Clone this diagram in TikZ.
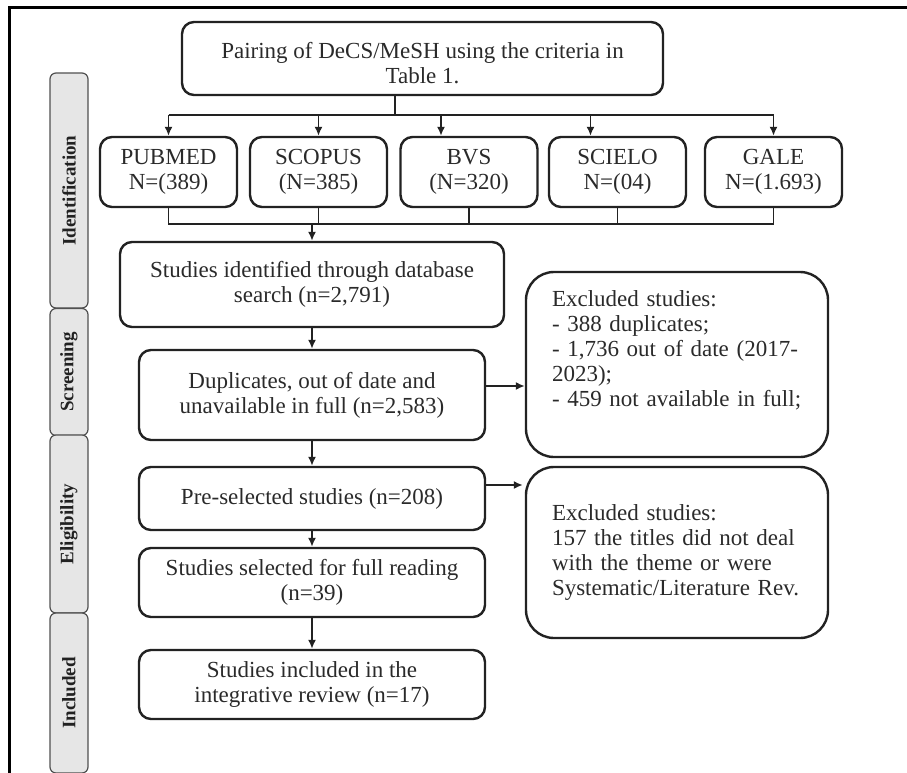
\documentclass[tikz,border=0pt]{standalone}
\usepackage{fontspec}
\setmainfont{Liberation Serif}
\usetikzlibrary{arrows.meta}

\definecolor{inkgray}{HTML}{222222}
\definecolor{textgray}{HTML}{2A2A2A}
\definecolor{barfill}{HTML}{E6E6E6}
\definecolor{bardraw}{HTML}{505050}

\tikzset{
  box/.style={draw=inkgray, line width=2.4pt, rounded corners=12pt, align=center,
    text=textgray, inner sep=0pt, font=\fontsize{23}{25}\selectfont},
  dbbox/.style={box, minimum width=137pt, minimum height=70pt},
  flowbox/.style={box, minimum width=346pt},
  exclbox/.style={box, rounded corners=28pt, align=left, minimum width=302pt,
    text width=250pt},
  phasebar/.style={draw=bardraw, fill=barfill, line width=1.2pt, rounded corners=6pt,
    minimum width=38pt, inner sep=0pt},
  phasetext/.style={rotate=90, font=\fontsize{19}{21}\selectfont\bfseries, text=inkgray},
  link/.style={draw=inkgray, line width=1.7pt},
  arrowlink/.style={link, -{Latex[length=9pt,width=8pt]}}
}

\begin{document}
\begin{tikzpicture}[x=1pt, y=-1pt]
        \useasboundingbox (0,0) rectangle (907,773);

        \coordinate (P) at (422.5,58.5);
        \coordinate (Bus) at (395,115);
        \coordinate (Join) at (312,224);

        % frame
        \draw[line width=3pt, black] (9,773) -- (9,8) -- (907,8);

        % phases
        \node[phasebar, minimum height=235pt] (idbar) at (69,190.5) {};
        \node[phasebar, minimum height=127pt] (scbar) at (69,372) {};
        \node[phasebar, minimum height=178pt] (elbar) at (69,524) {};
        \node[phasebar, minimum height=160pt] (inbar) at (69,693) {};
        \node[phasetext] (idtext) at (idbar) {Identification};
        \node[phasetext] (sctext) at (scbar) {Screening};
        \node[phasetext] (eltext) at (elbar) {Eligibility};
        \node[phasetext] (intext) at (inbar) {Included};

        % databases
        \node[box, minimum width=481pt, minimum height=73pt] (pairing) at (P) {};
        \node[align=center, text=textgray, inner sep=0pt, font=\fontsize{23}{25}\selectfont]
              (pairingtext) at ([yshift=-5pt]pairing.center)
              {Pairing of DeCS/MeSH using the criteria in\\Table 1.};
        \node[dbbox] (pubmed) at (168.5,172) {PUBMED\\N=(389)};
        \node[dbbox] (scopus) at (318.5,172) {SCOPUS\\(N=385)};
        \node[dbbox] (bvs)    at (469,172)   {BVS\\(N=320)};
        \node[dbbox] (scielo) at (617.5,172) {SCIELO\\N=(04)};
        \node[dbbox] (gale)   at (773.5,172) {GALE\\N=(1.693)};

        % flow
        \node[box, minimum width=384pt, minimum height=85pt] (identified) at (312,284.5)
              {Studies identified through database\\search (n=2,791)};
        \node[flowbox, minimum height=90pt] (duplicates) at (312,395)
              {Duplicates, out of date and\\unavailable in full (n=2,583)};
        \node[flowbox, minimum height=63pt] (preselected) at (312,498.5)
              {Pre-selected studies (n=208)};
        \node[flowbox, minimum height=69pt] (selected) at (312,582.5)
              {Studies selected for full reading\\(n=39)};
        \node[flowbox, minimum height=69pt] (included) at (312,684.5)
              {Studies included in the\\integrative review (n=17)};

        \node[exclbox, minimum height=185pt] (exclone) at (677,364.5)
              {Excluded studies:\\- 388 duplicates;\\- 1,736 out of date (2017-\\2023);\\- 459 not available in full;\\\strut};
        \node[exclbox, minimum height=171pt] (excltwo) at (677,552.5)
              {Excluded studies:\\157 the titles did not deal\\with the theme or were\\Systematic/Literature Rev.};

        % connectors
        \draw[link] (pairing.south -| Bus) -- (Bus);
        \draw[link] (pubmed.north |- Bus) -- (gale.north |- Bus);
        \draw[arrowlink] (pubmed.north |- Bus) -- (pubmed.north);
        \draw[arrowlink] (scopus.north |- Bus) -- (scopus.north);
        \draw[arrowlink] ([xshift=-28pt]bvs.north |- Bus) -- ([xshift=-28pt]bvs.north);
        \draw[arrowlink] ([xshift=-27pt]scielo.north |- Bus) -- ([xshift=-27pt]scielo.north);
        \draw[arrowlink] (gale.north |- Bus) -- (gale.north);

        \draw[link] (pubmed.south) |- (gale.south |- Join) -- (gale.south);
        \draw[link] (scopus.south) -- (scopus.south |- Join);
        \draw[link] (bvs.south) -- (bvs.south |- Join);
        \draw[link] (scielo.south) -- (scielo.south |- Join);
        \draw[arrowlink] (Join) -- (identified.north);

        \draw[arrowlink] (identified) -- (duplicates);
        \draw[arrowlink] (duplicates) -- (preselected);
        \draw[arrowlink] (preselected) -- (selected);
        \draw[arrowlink] (selected) -- (included);

        \draw[arrowlink] ([yshift=9pt]duplicates.east) -- ([yshift=9pt]duplicates.east -| exclone.west);
        \draw[arrowlink] ([yshift=13.5pt]preselected.east) -- ([yshift=13.5pt,xshift=-2pt]preselected.east -| excltwo.west);
    \end{tikzpicture}
\end{document}
